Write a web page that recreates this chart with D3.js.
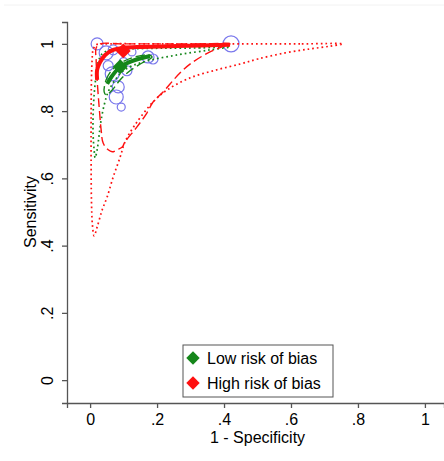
<!DOCTYPE html>
<html>
  <head>
    <meta charset="UTF-8">
    <script src="https://d3js.org/d3.v7.min.js"></script>
    <style>
        body { margin: 0; background: #fff; }
        * { font-family: "Liberation Sans", Arial, sans-serif; }
        .tick text { font-size: 16px; fill: #000; }
        .axis path, .axis line { stroke: #555; stroke-width: 1.3; }
        .axisTitle { font-size: 16px; fill: #000; text-anchor: middle; }
        .legendText { font-size: 16px; fill: #000; }
    </style>
  </head>
  <body>
    <script>
        // individual studies: 1 - specificity, sensitivity, study size
        let studyFpr  = [0.021, 0.048, 0.125, 0.173, 0.188, 0.421, 0.066, 0.110, 0.054, 0.084, 0.078, 0.093, 0.069, 0.100]
        let studySens = [1.000, 0.973, 0.976, 0.961, 0.955, 1.000, 0.911, 0.920, 0.935, 0.872, 0.842, 0.812, 0.982, 0.946]
        let studyN    = [225, 306, 100, 225, 156, 400, 306, 156, 156, 225, 306, 100, 156, 120]

        // summary points
        let groups = ['Low risk of bias', 'High risk of bias']
        let summaryFpr  = [0.090, 0.099]
        let summarySens = [0.932, 0.979]

        // SROC curves
        let lowSrocFpr   = [0.051, 0.066, 0.090, 0.125, 0.179]
        let lowSrocSens  = [0.881, 0.905, 0.932, 0.949, 0.964]
        let highSrocFpr  = [0.021, 0.021, 0.030, 0.045, 0.069, 0.099, 0.158, 0.260, 0.418]
        let highSrocSens = [0.893, 0.923, 0.946, 0.967, 0.982, 0.988, 0.991, 0.994, 0.997]

        // 95% confidence regions
        let lowConfFpr   = [0.042, 0.048, 0.066, 0.096, 0.134, 0.173, 0.185, 0.155, 0.119, 0.090, 0.066, 0.048]
        let lowConfSens  = [0.857, 0.893, 0.923, 0.946, 0.961, 0.967, 0.961, 0.943, 0.920, 0.893, 0.863, 0.848]
        let highConfFpr  = [0.418, 0.328, 0.209, 0.090, 0.030, 0.018, 0.018, 0.021, 0.027, 0.033, 0.039, 0.054, 0.066, 0.081, 0.096, 0.104, 0.140, 0.170, 0.188, 0.218, 0.269, 0.307, 0.358, 0.394]
        let highConfSens = [1.000, 1.000, 1.000, 1.000, 1.000, 0.988, 0.952, 0.893, 0.813, 0.744, 0.705, 0.685, 0.679, 0.685, 0.693, 0.708, 0.753, 0.795, 0.827, 0.857, 0.914, 0.946, 0.976, 0.991]

        // 95% prediction regions
        let lowPredFpr   = [0.418, 0.328, 0.209, 0.119, 0.060, 0.036, 0.024, 0.018, 0.012, 0.009, 0.009, 0.012, 0.015, 0.021, 0.027, 0.033, 0.042, 0.054, 0.075, 0.104, 0.158, 0.260, 0.358]
        let lowPredSens  = [0.991, 0.988, 0.987, 0.985, 0.982, 0.970, 0.946, 0.908, 0.848, 0.789, 0.729, 0.685, 0.661, 0.685, 0.729, 0.774, 0.818, 0.857, 0.893, 0.923, 0.946, 0.967, 0.982]
        let highPredFpr  = [0.755, 0.627, 0.478, 0.328, 0.179, 0.060, 0.018, 0.009, 0.006, 0.004, 0.003, 0.003, 0.004, 0.007, 0.012, 0.021, 0.036, 0.051, 0.069, 0.090, 0.104, 0.134, 0.188, 0.230, 0.299, 0.379, 0.448, 0.501, 0.582, 0.657, 0.716]
        let highPredSens = [1.000, 1.000, 1.000, 1.000, 1.000, 1.000, 0.997, 0.982, 0.952, 0.893, 0.774, 0.655, 0.536, 0.461, 0.429, 0.455, 0.506, 0.545, 0.604, 0.664, 0.708, 0.759, 0.827, 0.863, 0.899, 0.923, 0.940, 0.955, 0.973, 0.985, 0.993]

        let tickValues = [0, 0.2, 0.4, 0.6, 0.8, 1]
        let tickLabels = ['0', '.2', '.4', '.6', '.8', '1']

        let green = '#15861a', red = '#ff1010', blue = '#7a78ec'

        let svg = d3.select('body').append('svg')
            .attr('width', 444)
            .attr('height', 461)

        let x = d3.scaleLinear().domain([-0.069, 1.057]).range([67, 444])
        let y = d3.scaleLinear().domain([-0.068, 1.065]).range([403, 22])
        let r = d3.scaleSqrt().domain([0, d3.max(studyN)]).range([0, 8])

        svg.append('line')
            .attr('x1', 4).attr('x2', 444).attr('y1', 5).attr('y2', 5)
            .attr('stroke', '#f2f2f2')

        svg.append('g')
            .attr('class', 'axis')
            .attr('transform', `translate(0, ${y.range()[0]})`)
            .call(d3.axisBottom(x).tickValues(tickValues).tickSizeOuter(0).tickSize(5).tickPadding(6)
                .tickFormat((d, i) => tickLabels[i]))

        let yAxis = svg.append('g')
            .attr('class', 'axis')
            .attr('transform', `translate(${x.range()[0]}, 0)`)
            .call(d3.axisLeft(y).tickValues(tickValues).tickSizeOuter(0).tickSize(5)
                .tickFormat((d, i) => tickLabels[i]))
        yAxis.selectAll('.tick text')
            .attr('x', null).attr('dy', null)
            .attr('transform', 'translate(-14, 0) rotate(-90)')
            .attr('text-anchor', 'middle')

        svg.append('text')
            .attr('class', 'axisTitle')
            .attr('x', (x(0) + x(1)) / 2)
            .attr('y', 443)
            .text('1 - Specificity')

        svg.append('text')
            .attr('class', 'axisTitle')
            .attr('transform', `translate(36, ${(y(0) + y(1)) / 2}) rotate(-90)`)
            .text('Sensitivity')

        let zip = (a, b) => a.map((v, i) => [v, b[i]])
        let closed = d3.line().x(d => x(d[0])).y(d => y(d[1])).curve(d3.curveCatmullRomClosed.alpha(0.5))
        let open = d3.line().x(d => x(d[0])).y(d => y(d[1])).curve(d3.curveCatmullRom.alpha(0.5))

        // studies
        svg.append('g').selectAll('circle')
            .data(studyFpr)
            .enter()
            .append('circle')
            .attr('cx', d => x(d))
            .attr('cy', (d, i) => y(studySens[i]))
            .attr('r', (d, i) => r(studyN[i]))
            .attr('fill', 'none')
            .attr('stroke', blue)
            .attr('stroke-width', 1.2)

        let regions = [
            {pred: zip(lowPredFpr, lowPredSens), conf: zip(lowConfFpr, lowConfSens), sroc: zip(lowSrocFpr, lowSrocSens), color: green},
            {pred: zip(highPredFpr, highPredSens), conf: zip(highConfFpr, highConfSens), sroc: zip(highSrocFpr, highSrocSens), color: red}
        ]

        regions.forEach(g => {
            svg.append('path')
                .attr('d', closed(g.pred))
                .attr('fill', 'none')
                .attr('stroke', g.color)
                .attr('stroke-width', 1.7)
                .attr('stroke-dasharray', '1.7 3')
            svg.append('path')
                .attr('d', closed(g.conf))
                .attr('fill', 'none')
                .attr('stroke', g.color)
                .attr('stroke-width', 1.4)
                .attr('stroke-dasharray', '9 4')
        })
        regions.forEach(g => {
            svg.append('path')
                .attr('d', open(g.sroc))
                .attr('fill', 'none')
                .attr('stroke', g.color)
                .attr('stroke-width', 4)
        })

        let diamond = d3.symbol().type(d3.symbolSquare).size(110)
        let colors = [green, red]

        svg.append('g').selectAll('path')
            .data(summaryFpr)
            .enter()
            .append('path')
            .attr('d', diamond)
            .attr('transform', (d, i) => `translate(${x(d)}, ${y(summarySens[i])}) rotate(45)`)
            .attr('fill', (d, i) => colors[i])

        // legend
        let legend = svg.append('g').attr('transform', 'translate(183, 345)')
        legend.append('rect')
            .attr('width', 150).attr('height', 52)
            .attr('fill', '#fff')
            .attr('stroke', '#555')
            .attr('stroke-width', 1)
        groups.forEach((name, i) => {
            legend.append('path')
                .attr('d', d3.symbol().type(d3.symbolSquare).size(90)())
                .attr('transform', `translate(10, ${13 + i * 25}) rotate(45)`)
                .attr('fill', colors[i])
            legend.append('text')
                .attr('class', 'legendText')
                .attr('x', 24)
                .attr('y', 19 + i * 25)
                .text(name)
        })
    </script>
  </body>
</html>
